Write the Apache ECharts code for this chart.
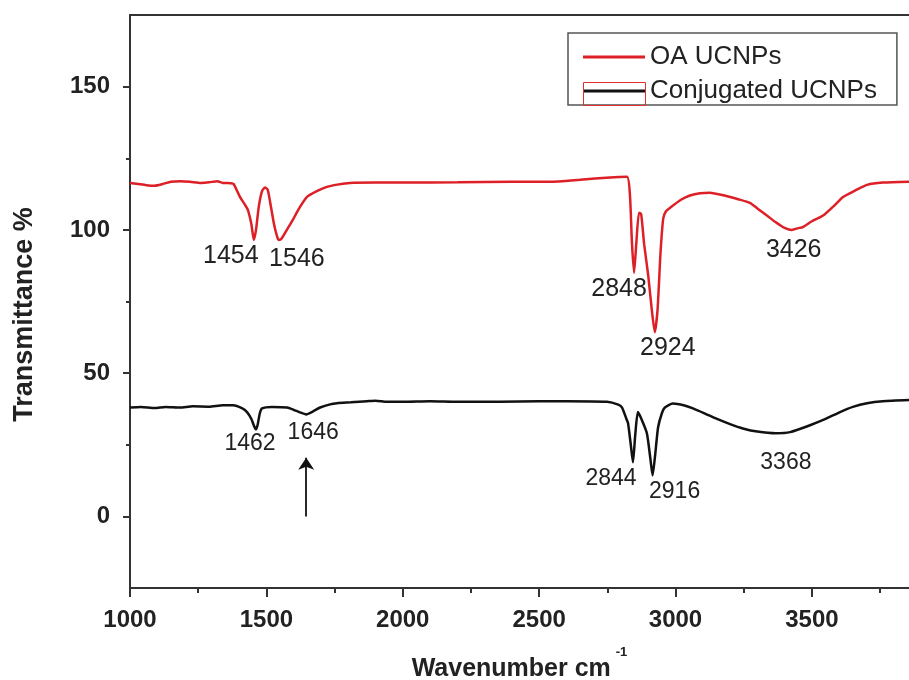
<!DOCTYPE html>
<html>
<head>
<meta charset="utf-8">
<script src="https://cdn.jsdelivr.net/npm/echarts@6/dist/echarts.min.js"></script>
<style>
  html, body { margin: 0; padding: 0; background: #ffffff; }
  #chart { width: 909px; height: 680px; }
</style>
</head>
<body>
<div id="chart"></div>
<script>
// FTIR spectra: oleic-acid capped UCNPs vs. conjugated UCNPs
const seriesNames = ['OA UCNPs', 'Conjugated UCNPs'];

const oaWavenumber = [
  1000, 1030, 1060, 1090, 1120, 1150, 1185, 1220, 1260, 1290, 1320, 1340, 1370, 1380,
  1403, 1420, 1432, 1445, 1454, 1462, 1472, 1484, 1495, 1505, 1515, 1528, 1540, 1546,
  1556, 1575, 1597, 1620, 1649, 1685, 1722, 1760, 1806, 1900, 2000, 2200, 2400, 2540,
  2650, 2760, 2822, 2833, 2840, 2848, 2856, 2866, 2874, 2885, 2900, 2912, 2924, 2934,
  2945, 2955, 2965, 2980, 3020, 3053, 3090, 3126, 3180, 3230, 3273, 3300, 3335, 3365,
  3394, 3426, 3450, 3467, 3500, 3541, 3580, 3614, 3660, 3702, 3760, 3856
];
const oaTransmittance = [
  116.4, 116.0, 115.6, 115.4, 116.0, 116.8, 117.0, 116.8, 116.4, 116.6, 117.0, 116.4, 116.3, 116.0,
  111.5, 109.0, 107.0, 102.0, 96.5, 100.0, 108.0, 113.5, 114.8, 114.0, 109.0, 102.0, 97.5, 96.5,
  97.0, 100.0, 103.5, 107.5, 111.5, 113.5, 115.0, 115.8, 116.4, 116.5, 116.5, 116.6, 116.8, 116.8,
  117.5, 118.3, 118.5, 112.0, 96.0, 85.0, 95.0, 106.0, 105.5, 95.0, 84.0, 73.0, 64.3, 72.0,
  92.0, 104.0, 106.5, 107.7, 110.5, 112.0, 112.8, 113.0, 112.0, 110.7, 109.4, 107.5, 105.0, 102.8,
  101.0, 100.0, 100.6, 101.0, 103.0, 105.0, 108.3, 111.5, 113.8, 115.7, 116.5, 116.8
];

const conjWavenumber = [
  1000, 1040, 1090, 1130, 1183, 1230, 1290, 1340, 1378, 1410, 1429, 1445, 1455, 1462,
  1468, 1476, 1484, 1520, 1576, 1600, 1623, 1646, 1670, 1697, 1730, 1759, 1810, 1869,
  1900, 1942, 2000, 2100, 2200, 2356, 2500, 2600, 2749, 2790, 2804, 2820, 2826, 2836,
  2844, 2852, 2862, 2875, 2895, 2908, 2916, 2926, 2936, 2950, 2961, 2990, 3030, 3064,
  3110, 3152, 3200, 3247, 3300, 3368, 3420, 3493, 3550, 3603, 3650, 3702, 3760, 3856
];
const conjTransmittance = [
  38.0, 38.2, 37.8, 38.2, 38.0, 38.4, 38.3, 38.8, 38.8, 37.8, 36.4, 34.0, 31.5, 30.4,
  32.0, 36.0, 37.7, 38.2, 38.0, 37.2, 36.3, 35.6, 36.6, 38.0, 39.0, 39.5, 39.8, 40.2,
  40.4, 40.0, 40.0, 40.2, 40.0, 40.0, 40.2, 40.2, 40.0, 39.0, 38.0, 34.0, 32.5, 25.0,
  18.9, 28.0, 36.4, 34.0, 29.0, 20.0, 14.3, 22.0, 31.0, 36.0, 38.0, 39.4, 38.8, 37.7,
  35.8, 34.0, 32.2, 30.7, 29.6, 29.0, 29.4, 31.8, 34.0, 36.4, 38.2, 39.5, 40.2, 40.6
];

// band positions marked on each spectrum
const oaPeaks = [1454, 1546, 2848, 2924, 3426];
const conjPeaks = [1462, 1646, 2844, 2916, 3368];

// arrow under the 1646 band (transmittance span)
const arrowSpan = [0, 20.5];

const xRange = [1000, 3856];
const yRange = [-25, 175];
const xTickLabels = [1000, 1500, 2000, 2500, 3000, 3500];
const xMinorTicks = [1250, 1750, 2250, 2750, 3250, 3750];
const yTickLabels = [0, 50, 100, 150];
const yMinorTicks = [25, 75, 125];

const FONT = '"Liberation Sans", Arial, Helvetica, sans-serif';
const AXIS_COLOR = '#333333';
const TEXT_COLOR = '#222222';
const RED = '#dd1f26';
const BLACK = '#111111';

function pairs(xs, ys) {
  return xs.map((x, i) => [x, ys[i]]);
}

// label placement (pixel offsets from the band minimum)
const oaLabelOffsets = [[-23, 16], [18, 19], [-15, 16], [13, 16], [2, 20]];
const conjLabelOffsets = [[-6, 14], [7, 18], [-22, 16], [22, 16], [10, 29]];

function peakMarks(peaks, xs, ys, offsets, fontSize) {
  return peaks.map((p, i) => {
    const idx = xs.indexOf(p);
    return {
      coord: [p, ys[idx]],
      value: p,
      label: {
        show: true,
        position: 'inside',
        offset: offsets[i],
        formatter: String(p),
        fontSize: fontSize,
        color: TEXT_COLOR,
        fontFamily: FONT
      }
    };
  });
}

const plainNumber = (v) => String(v);

const chart = echarts.init(document.getElementById('chart'), null, { renderer: 'canvas' });

const option = {
  animation: false,
  backgroundColor: '#ffffff',
  grid: {
    left: 130,
    right: 0,
    top: 15,
    bottom: 92,
    show: false,
    containLabel: false,
    outerBoundsMode: 'none'
  },
  legend: {
    orient: 'vertical',
    left: 568,
    top: 33,
    align: 'left',
    padding: [11, 20, 1, 15],
    itemGap: 8,
    itemWidth: 62,
    itemHeight: 3,
    borderColor: '#555555',
    borderWidth: 1.5,
    textStyle: { fontSize: 26, color: TEXT_COLOR, fontFamily: FONT },
    data: [
      { name: seriesNames[0], icon: 'rect' },
      { name: seriesNames[1], icon: 'rect' }
    ]
  },
  xAxis: [
    {
      // main wavenumber axis with labelled ticks
      type: 'value',
      min: xRange[0],
      max: xRange[1],
      position: 'bottom',
      axisLine: { show: true, onZero: false, lineStyle: { color: AXIS_COLOR, width: 2 } },
      axisTick: { show: true, customValues: xTickLabels, length: 9, lineStyle: { color: AXIS_COLOR, width: 2 } },
      splitLine: { show: false },
      axisLabel: {
        customValues: xTickLabels,
        formatter: plainNumber,
        fontSize: 24,
        fontWeight: 'bold',
        color: TEXT_COLOR,
        fontFamily: FONT,
        margin: 20
      },
      name: '{t|Wavenumber cm}{s|-1}',
      nameLocation: 'middle',
      nameGap: 58,
      nameTextStyle: {
        rich: {
          t: { fontSize: 25, fontWeight: 'bold', color: TEXT_COLOR, fontFamily: FONT },
          s: { fontSize: 13, fontWeight: 'bold', color: TEXT_COLOR, fontFamily: FONT, padding: [0, 0, 34, 5] }
        }
      }
    },
    {
      // minor ticks between labelled wavenumbers
      type: 'value',
      min: xRange[0],
      max: xRange[1],
      position: 'bottom',
      offset: 0,
      axisLine: { show: false, onZero: false },
      axisTick: { show: true, customValues: xMinorTicks, length: 5, lineStyle: { color: AXIS_COLOR, width: 2 } },
      axisLabel: { show: false },
      splitLine: { show: false }
    },
    {
      // top frame line
      type: 'value',
      min: xRange[0],
      max: xRange[1],
      position: 'top',
      axisLine: { show: true, onZero: false, lineStyle: { color: AXIS_COLOR, width: 2 } },
      axisTick: { show: false },
      axisLabel: { show: false },
      splitLine: { show: false }
    }
  ],
  yAxis: [
    {
      type: 'value',
      min: yRange[0],
      max: yRange[1],
      position: 'left',
      axisLine: { show: true, onZero: false, lineStyle: { color: AXIS_COLOR, width: 2 } },
      axisTick: { show: true, customValues: yTickLabels, length: 7, lineStyle: { color: AXIS_COLOR, width: 2 } },
      splitLine: { show: false },
      axisLabel: {
        customValues: yTickLabels,
        formatter: plainNumber,
        fontSize: 24,
        fontWeight: 'bold',
        color: TEXT_COLOR,
        fontFamily: FONT,
        margin: 20
      },
      name: 'Transmittance %',
      nameLocation: 'middle',
      nameRotate: 90,
      nameGap: 92,
      nameTextStyle: {
        fontSize: 27,
        fontWeight: 'bold',
        color: TEXT_COLOR,
        fontFamily: FONT,
        padding: [0, 26, 0, 0]
      }
    },
    {
      type: 'value',
      min: yRange[0],
      max: yRange[1],
      position: 'left',
      offset: 0,
      axisLine: { show: false, onZero: false },
      axisTick: { show: true, customValues: yMinorTicks, length: 4, lineStyle: { color: AXIS_COLOR, width: 2 } },
      axisLabel: { show: false },
      splitLine: { show: false }
    }
  ],
  series: [
    {
      name: seriesNames[0],
      type: 'line',
      xAxisIndex: 0,
      yAxisIndex: 0,
      data: pairs(oaWavenumber, oaTransmittance),
      showSymbol: false,
      smooth: 0.2,
      lineStyle: { color: RED, width: 2.5 },
      itemStyle: { color: RED },
      markPoint: {
        symbol: 'circle',
        symbolSize: 0,
        silent: true,
        data: peakMarks(oaPeaks, oaWavenumber, oaTransmittance, oaLabelOffsets, 25)
      }
    },
    {
      name: seriesNames[1],
      type: 'line',
      xAxisIndex: 0,
      yAxisIndex: 0,
      data: pairs(conjWavenumber, conjTransmittance),
      showSymbol: false,
      smooth: 0.2,
      lineStyle: { color: BLACK, width: 2.5 },
      itemStyle: { color: BLACK },
      markPoint: {
        symbol: 'circle',
        symbolSize: 0,
        silent: true,
        data: peakMarks(conjPeaks, conjWavenumber, conjTransmittance, conjLabelOffsets, 23)
      },
      markLine: {
        silent: true,
        symbol: ['none', 'arrow'],
        symbolSize: 12,
        label: { show: false },
        emphasis: { disabled: true },
        lineStyle: { color: BLACK, width: 1.8, type: 'solid' },
        data: [[
          { coord: [conjPeaks[1], arrowSpan[0]], symbol: 'none' },
          { coord: [conjPeaks[1], arrowSpan[1]], symbol: 'arrow', symbolSize: 12 }
        ]]
      }
    }
  ],
  graphic: [
    {
      // outline drawn around the second legend key
      type: 'rect',
      left: 581,
      top: 80,
      shape: { width: 62, height: 23 },
      style: { fill: 'none', stroke: '#e03030', lineWidth: 1 },
      silent: true,
      z: 100
    }
  ]
};

chart.setOption(option);
</script>
</body>
</html>
